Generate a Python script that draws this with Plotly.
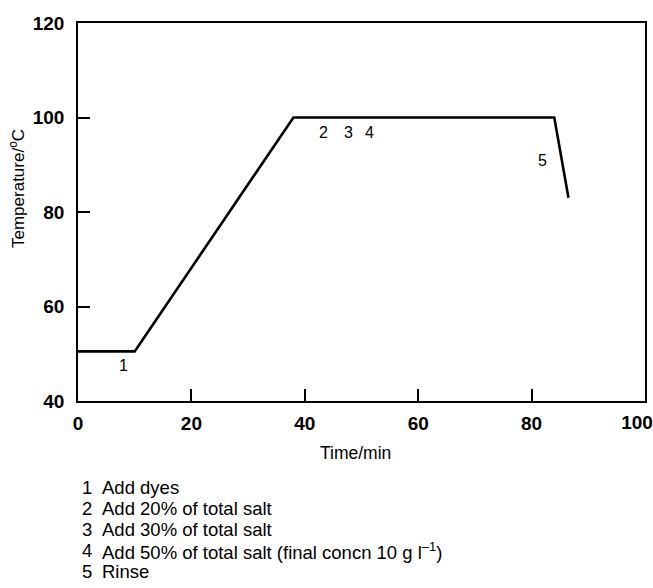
import plotly.graph_objects as go

# Data
time_min = [0, 10, 38, 84, 86.5]
temperature = [50.5, 50.5, 100, 100, 83]

step_labels = ["1", "2", "3", "4", "5"]
step_x = [8.1, 43.3, 47.7, 51.4, 81.9]
step_y = [47.6, 96.8, 96.8, 96.8, 90.9]

note_numbers = ["1", "2", "3", "4", "5"]
note_texts = [
    "Add dyes",
    "Add 20% of total salt",
    "Add 30% of total salt",
    "Add 50% of total salt (final concn 10 g l<sup>\u20131</sup>)",
    "Rinse",
]

x_ticks = [0, 20, 40, 60, 80]
x_tick_last = [100]
y_ticks = [40, 60, 80, 100, 120]

W, H = 653, 588
L, R, T, B = 78, 8, 23, 187
PW = W - L - R
PH = H - T - B

def px_x(px):
    return (px - L) / PW

def px_y(py):
    return (H - B - py) / PH

FONT = "Liberation Sans, Arial, Helvetica, sans-serif"
TICKFONT = dict(family=FONT, size=19, color="black", weight="bold")

fig = go.Figure()
fig.add_trace(go.Scatter(
    x=time_min, y=temperature, mode="lines",
    line=dict(color="black", width=2.6),
    hoverinfo="skip", showlegend=False,
))
# invisible helper trace on the overlay axis carrying the last x tick label
fig.add_trace(go.Scatter(
    x=x_tick_last, y=[None], xaxis="x2", mode="lines",
    hoverinfo="skip", showlegend=False,
))

annotations = []
for lab, xx, yy in zip(step_labels, step_x, step_y):
    annotations.append(dict(
        x=xx, y=yy, xref="x", yref="y", text=lab, showarrow=False,
        font=dict(family=FONT, size=16, color="black"),
        xanchor="center", yanchor="middle",
    ))

note_y_px = [487, 508.5, 529.5, 550.5, 571.5]
for num, txt, py in zip(note_numbers, note_texts, note_y_px):
    annotations.append(dict(
        x=px_x(80), y=px_y(py), xref="paper", yref="paper", text=num,
        showarrow=False, xanchor="left", yanchor="middle",
        font=dict(family=FONT, size=18.5, color="black"),
    ))
    annotations.append(dict(
        x=px_x(100), y=px_y(py), xref="paper", yref="paper", text=txt,
        showarrow=False, xanchor="left", yanchor="middle",
        font=dict(family=FONT, size=18.5, color="black"),
    ))

annotations.append(dict(
    x=px_x(17), y=px_y(189), xref="paper", yref="paper",
    text="Temperature/<sup>o</sup>C", textangle=-90, showarrow=False,
    xanchor="center", yanchor="middle",
    font=dict(family=FONT, size=17, color="black"),
))
annotations.append(dict(
    x=px_x(355), y=px_y(453), xref="paper", yref="paper",
    text="Time/min", showarrow=False, xanchor="center", yanchor="middle",
    font=dict(family=FONT, size=17.5, color="black"),
))

fig.update_layout(
    width=W, height=H,
    margin=dict(l=L, r=R, t=T, b=B, pad=0, autoexpand=False),
    paper_bgcolor="white", plot_bgcolor="white",
    annotations=annotations,
    xaxis=dict(
        range=[0, 100], tickvals=x_ticks, ticktext=[str(v) for v in x_ticks],
        ticks="inside", ticklen=12, tickwidth=1.5, tickcolor="black",
        showline=True, linecolor="black", linewidth=1.6, mirror=True,
        showgrid=False, zeroline=False, automargin=False,
        tickfont=TICKFONT, ticklabelstandoff=4,
    ),
    xaxis2=dict(
        range=[0, 100], overlaying="x", side="bottom", anchor="y",
        tickvals=x_tick_last, ticktext=[str(v) for v in x_tick_last],
        ticks="", showline=False, showgrid=False, zeroline=False,
        automargin=False,
        tickfont=TICKFONT, ticklabelstandoff=8, ticklabelshift=-8,
        ticklabeloverflow="allow",
    ),
    yaxis=dict(
        range=[40, 120], tickvals=y_ticks, ticktext=[str(v) for v in y_ticks],
        ticks="inside", ticklen=12, tickwidth=1.5, tickcolor="black",
        showline=True, linecolor="black", linewidth=1.6, mirror=True,
        showgrid=False, zeroline=False, automargin=False,
        tickfont=TICKFONT, ticklabelstandoff=8,
    ),
)

fig.write_html("out.html")
